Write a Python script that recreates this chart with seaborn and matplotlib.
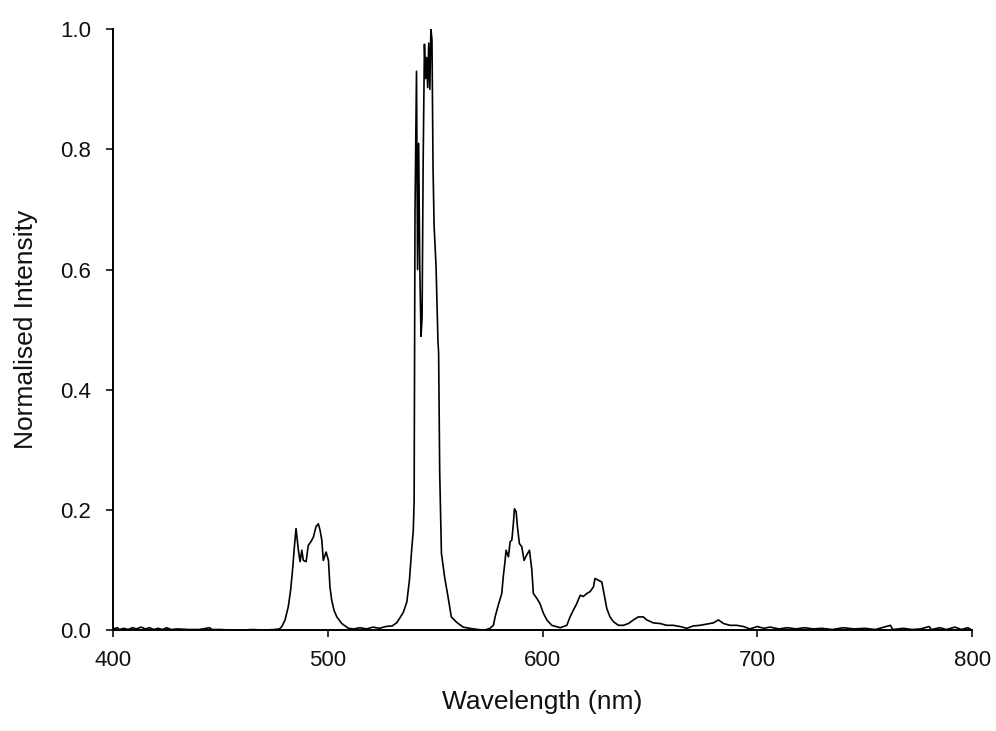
import matplotlib
matplotlib.use("Agg")
import matplotlib.pyplot as plt
import seaborn as sns
import pandas as pd

# Hand-read spectrum (wavelength nm, normalised intensity)
baseline_lo_wl = [400, 402, 403, 405, 407, 409, 411, 413, 415, 417, 419, 421, 423, 425, 427,
                  430, 435, 440, 445, 446, 450, 455, 460, 465, 470, 475, 477.5]
baseline_lo_int = [0.002, 0.004, 0.001, 0.003, 0.001, 0.004, 0.002, 0.005, 0.002, 0.004, 0.001,
                   0.003, 0.001, 0.004, 0.001, 0.002, 0.001, 0.001, 0.004, 0.001, 0.001, 0.0,
                   0.0, 0.001, 0.0, 0.001, 0.002]

peak490_wl = [478.6, 480.1, 481.6, 482.7, 483.7, 484.3, 485.2, 486.3, 487.1, 487.9, 488.6,
              489.9, 490.9, 492.1, 493.3, 494.5, 495.6, 496.4, 497.2, 497.9, 499.2, 500.3,
              501.0, 501.8, 502.9, 504.2, 506.5, 509.6]
peak490_int = [0.006, 0.017, 0.039, 0.067, 0.105, 0.133, 0.169, 0.133, 0.114, 0.133, 0.116,
               0.114, 0.141, 0.147, 0.155, 0.172, 0.177, 0.166, 0.150, 0.116, 0.130, 0.116,
               0.072, 0.050, 0.033, 0.022, 0.011, 0.003]

peak545_wl = [512, 515, 518, 521, 524, 527, 530, 532, 533.5, 535.2, 536.8, 538.0, 539.1,
              539.8, 540.2, 540.6, 541.3, 541.8, 542.3, 542.8, 543.4, 543.9, 544.4, 545.0,
              545.5, 546.0, 546.5, 547.0, 547.5, 548.0, 548.5, 549.0, 549.5, 550.4, 551.3,
              551.6, 552.1, 552.9, 554.4, 556.0, 557.5, 560.0, 563.0, 566.0, 570.0, 573.0,
              575.5]
peak545_int = [0.002, 0.004, 0.002, 0.005, 0.003, 0.006, 0.007, 0.012, 0.020, 0.030, 0.047,
               0.083, 0.136, 0.166, 0.216, 0.694, 0.930, 0.600, 0.810, 0.610, 0.489, 0.520,
               0.780, 0.975, 0.918, 0.953, 0.903, 0.977, 0.900, 1.000, 0.983, 0.769, 0.672,
               0.606, 0.480, 0.461, 0.263, 0.128, 0.088, 0.055, 0.022, 0.013, 0.005, 0.003,
               0.001, 0.0, 0.003]

peak590_wl = [577.1, 577.9, 579.4, 581.0, 581.7, 582.5, 583.0, 584.1, 584.9, 585.7, 586.4,
              586.9, 587.7, 588.3, 589.2, 590.3, 591.4, 592.6, 593.9, 595.0, 595.7, 597.3,
              598.8, 600.4, 602.0, 604.3, 608.2]
peak590_int = [0.008, 0.022, 0.042, 0.061, 0.089, 0.114, 0.133, 0.122, 0.147, 0.150, 0.177,
               0.202, 0.197, 0.172, 0.144, 0.139, 0.116, 0.125, 0.133, 0.100, 0.061, 0.053,
               0.044, 0.028, 0.017, 0.008, 0.004]

peak625_wl = [611.3, 612.8, 614.3, 615.9, 617.5, 619.0, 620.6, 622.1, 623.7, 624.4, 626.0,
              627.6, 628.6, 629.9, 631.4, 633.0, 635.3, 637.6, 640.0, 642.3, 644.6, 646.9,
              648.5, 651.6, 654.7, 657.8, 660.9, 664.0, 667.2, 670.2, 673.3, 676.5, 679.5,
              681.9, 684.2, 687.3, 690.4, 693.5, 696.6]
peak625_int = [0.008, 0.022, 0.033, 0.044, 0.058, 0.056, 0.061, 0.064, 0.072, 0.086, 0.083,
               0.080, 0.061, 0.036, 0.022, 0.014, 0.008, 0.008, 0.011, 0.017, 0.022, 0.022,
               0.017, 0.012, 0.011, 0.008, 0.008, 0.006, 0.003, 0.007, 0.008, 0.010, 0.012,
               0.017, 0.011, 0.008, 0.008, 0.006, 0.002]

baseline_hi_wl = [700, 703, 706, 710, 714, 718, 722, 726, 730, 735, 740, 745, 750, 755, 758,
                  762, 763, 768, 772, 776, 780, 781, 785, 788, 792, 795, 798, 800]
baseline_hi_int = [0.006, 0.003, 0.005, 0.002, 0.004, 0.002, 0.004, 0.002, 0.003, 0.001,
                   0.004, 0.002, 0.003, 0.001, 0.004, 0.008, 0.001, 0.003, 0.001, 0.002,
                   0.006, 0.001, 0.004, 0.001, 0.005, 0.001, 0.004, 0.0]

wavelength = (baseline_lo_wl + peak490_wl + peak545_wl + peak590_wl + peak625_wl
              + baseline_hi_wl)
intensity = (baseline_lo_int + peak490_int + peak545_int + peak590_int + peak625_int
             + baseline_hi_int)

x_ticks = [400, 500, 600, 700, 800]
y_ticks = [0.0, 0.2, 0.4, 0.6, 0.8, 1.0]

df = pd.DataFrame({"Wavelength": wavelength, "Intensity": intensity})

sns.set_theme(style="ticks")
plt.rcParams['font.family'] = ['Liberation Sans', 'DejaVu Sans']

fig = plt.figure(figsize=(9.96, 7.31), dpi=100)
ax = fig.add_axes([0.1135, 0.138, 0.8625, 0.822])

sns.lineplot(data=df, x="Wavelength", y="Intensity", color="black", linewidth=1.2,
             estimator=None, sort=False, ax=ax)

ax.set_xlim(400, 800)
ax.set_ylim(0, 1.0)
ax.set_xticks(x_ticks)
ax.set_xticklabels([str(t) for t in x_ticks])
ax.set_yticks(y_ticks)
ax.set_yticklabels([f"{t:.1f}" for t in y_ticks])
ax.tick_params(direction="out", length=5, width=1.2, labelsize=16, colors="#111111")
ax.tick_params(axis="y", pad=11)
ax.tick_params(axis="x", pad=9)
for s in ["top", "right"]:
    ax.spines[s].set_visible(False)
for s in ["left", "bottom"]:
    ax.spines[s].set_linewidth(1.4)
    ax.spines[s].set_color("black")

ax.set_xlabel("Wavelength (nm)", fontsize=19, labelpad=14, color="#111111")
ax.set_ylabel("Normalised Intensity", fontsize=19, labelpad=16, color="#111111")

fig.savefig("out.png", dpi=100)
